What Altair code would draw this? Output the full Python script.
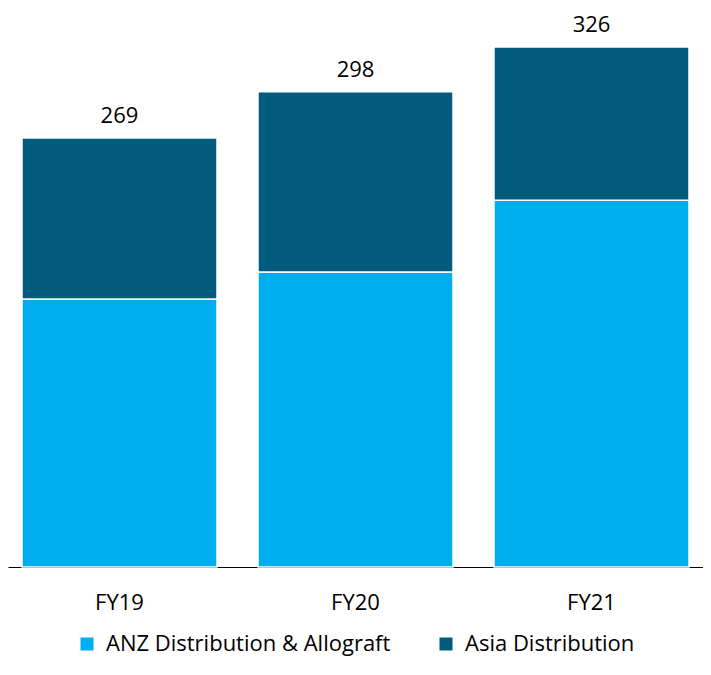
import altair as alt
import pandas as pd

years = ["FY19", "FY20", "FY21"]
anz = [168, 185, 230]
asia = [101, 113, 96]
series = ["ANZ Distribution & Allograft", "Asia Distribution"]
colors = ["#00AEEF", "#005B7C"]

rows = []
for i, y in enumerate(years):
    rows.append({"year": y, "series": series[0], "value": anz[i], "ord": 0})
    rows.append({"year": y, "series": series[1], "value": asia[i], "ord": 1})
df = pd.DataFrame(rows)

FONT = "Open Sans"
FS = 22

x = alt.X("year:N", sort=years, title=None,
          scale=alt.Scale(paddingInner=0.1737, paddingOuter=0.0593),
          axis=alt.Axis(labelAngle=0, labelFontSize=FS, labelColor="#000000",
                        labelFont=FONT, ticks=False, labelPadding=25,
                        domainColor="#000000", domainWidth=1.2))

bars = alt.Chart(df).mark_bar(stroke="white", strokeWidth=1.5).encode(
    x=x,
    y=alt.Y("value:Q", stack="zero", title=None,
            scale=alt.Scale(domain=[0, 326], nice=False),
            axis=None),
    color=alt.Color("series:N", sort=series,
                    scale=alt.Scale(domain=series, range=colors),
                    legend=alt.Legend(title=None, orient="none", direction="horizontal",
                                      legendX=68, legendY=586, padding=0,
                                      symbolType="square", symbolSize=169,
                                      symbolStrokeWidth=0,
                                      labelFontSize=FS, labelFont=FONT,
                                      labelColor="#000000", labelOffset=8,
                                      columnPadding=44, labelLimit=400)),
    order=alt.Order("ord:Q"),
)

labels = alt.Chart(df).transform_aggregate(
    total="sum(value)", groupby=["year"]
).mark_text(fontSize=FS, font=FONT, color="#000000", dy=-15, baseline="alphabetic").encode(
    x=alt.X("year:N", sort=years),
    y=alt.Y("total:Q"),
    text=alt.Text("total:Q"),
)

chart = alt.layer(bars, labels).properties(
    width=695, height=520,
    autosize=alt.AutoSizeParams(type="none"),
    padding={"left": 0, "top": 39, "right": 0, "bottom": 96},
).configure_view(stroke=None)

chart.save("out.html", embed_options={"renderer": "svg", "actions": False})
